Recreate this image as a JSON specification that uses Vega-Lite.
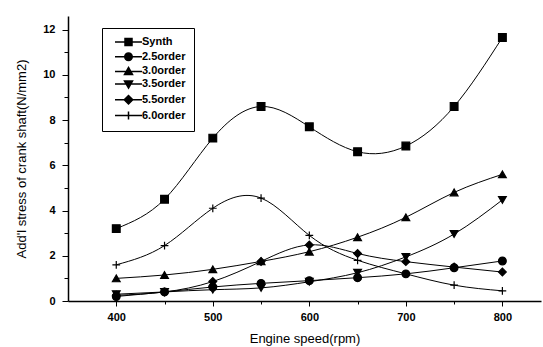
{
  "$schema": "https://vega.github.io/schema/vega-lite/v6.json",
  "width": 473,
  "height": 285,
  "autosize": {"type": "none"},
  "padding": {"left": 68, "top": 16, "right": 2, "bottom": 46},
  "background": "white",
  "config": {
    "view": {"stroke": null},
    "font": "Liberation Sans",
    "axis": {"grid": false, "domainColor": "black", "tickColor": "black", "labelColor": "black", "titleColor": "black", "labelFont": "Liberation Sans", "titleFont": "Liberation Sans", "labelFontWeight": "bold", "titleFontWeight": "normal", "labelFontSize": 11, "titleFontSize": 13, "domainWidth": 1.5}
  },
  "data": {
    "values": [
      {"s": "Synth", "x": 400, "y": 3.2}, {"s": "Synth", "x": 450, "y": 4.5}, {"s": "Synth", "x": 500, "y": 7.2}, {"s": "Synth", "x": 550, "y": 8.6}, {"s": "Synth", "x": 600, "y": 7.7}, {"s": "Synth", "x": 650, "y": 6.6}, {"s": "Synth", "x": 700, "y": 6.85}, {"s": "Synth", "x": 750, "y": 8.6}, {"s": "Synth", "x": 800, "y": 11.65},
      {"s": "2.5order", "x": 400, "y": 0.2}, {"s": "2.5order", "x": 450, "y": 0.4}, {"s": "2.5order", "x": 500, "y": 0.62}, {"s": "2.5order", "x": 550, "y": 0.78}, {"s": "2.5order", "x": 600, "y": 0.9}, {"s": "2.5order", "x": 650, "y": 1.03}, {"s": "2.5order", "x": 700, "y": 1.2}, {"s": "2.5order", "x": 750, "y": 1.47}, {"s": "2.5order", "x": 800, "y": 1.77},
      {"s": "3.0order", "x": 400, "y": 1.0}, {"s": "3.0order", "x": 450, "y": 1.15}, {"s": "3.0order", "x": 500, "y": 1.4}, {"s": "3.0order", "x": 550, "y": 1.75}, {"s": "3.0order", "x": 600, "y": 2.18}, {"s": "3.0order", "x": 650, "y": 2.82}, {"s": "3.0order", "x": 700, "y": 3.7}, {"s": "3.0order", "x": 750, "y": 4.8}, {"s": "3.0order", "x": 800, "y": 5.6},
      {"s": "3.5order", "x": 400, "y": 0.3}, {"s": "3.5order", "x": 450, "y": 0.4}, {"s": "3.5order", "x": 500, "y": 0.5}, {"s": "3.5order", "x": 550, "y": 0.58}, {"s": "3.5order", "x": 600, "y": 0.85}, {"s": "3.5order", "x": 650, "y": 1.25}, {"s": "3.5order", "x": 700, "y": 1.95}, {"s": "3.5order", "x": 750, "y": 2.96}, {"s": "3.5order", "x": 800, "y": 4.47},
      {"s": "5.5order", "x": 400, "y": 0.25}, {"s": "5.5order", "x": 450, "y": 0.4}, {"s": "5.5order", "x": 500, "y": 0.86}, {"s": "5.5order", "x": 550, "y": 1.75}, {"s": "5.5order", "x": 600, "y": 2.48}, {"s": "5.5order", "x": 650, "y": 2.1}, {"s": "5.5order", "x": 700, "y": 1.74}, {"s": "5.5order", "x": 750, "y": 1.5}, {"s": "5.5order", "x": 800, "y": 1.28},
      {"s": "6.0order", "x": 400, "y": 1.6}, {"s": "6.0order", "x": 450, "y": 2.45}, {"s": "6.0order", "x": 500, "y": 4.1}, {"s": "6.0order", "x": 550, "y": 4.55}, {"s": "6.0order", "x": 600, "y": 2.9}, {"s": "6.0order", "x": 650, "y": 1.8}, {"s": "6.0order", "x": 700, "y": 1.2}, {"s": "6.0order", "x": 750, "y": 0.7}, {"s": "6.0order", "x": 800, "y": 0.45}
    ]
  },
  "encoding": {
    "x": {"field": "x", "type": "quantitative", "scale": {"domain": [350, 840], "nice": false, "zero": false},
      "axis": {"title": "Engine speed(rpm)", "values": [400, 450, 500, 550, 600, 650, 700, 750, 800], "labelExpr": "datum.value % 100 ? '' : datum.label", "tickSize": {"condition": {"test": "datum.value % 100", "value": 3}, "value": 5}, "labelPadding": 5, "titlePadding": 10}},
    "y": {"field": "y", "type": "quantitative", "scale": {"domain": [0, 12.6], "nice": false},
      "axis": {"title": "Add'l stress of crank shaft(N/mm2)", "values": [0, 1, 2, 3, 4, 5, 6, 7, 8, 9, 10, 11, 12], "labelExpr": "datum.value % 2 ? '' : datum.label", "tickSize": {"condition": {"test": "datum.value % 2", "value": 4}, "value": 6}, "labelPadding": 7, "titlePadding": 14}}
  },
  "resolve": {"scale": {"shape": "independent"}},
  "layer": [
    {
      "mark": {"type": "line", "interpolate": "natural", "color": "black", "strokeWidth": 1},
      "encoding": {"detail": {"field": "s"}}
    },
    {
      "mark": {"type": "point", "filled": true, "fill": "black", "stroke": "black", "strokeWidth": 1.2, "size": 60, "opacity": 1},
      "encoding": {
        "shape": {"field": "s", "type": "nominal", "legend": null,
          "scale": {"domain": ["Synth", "2.5order", "3.0order", "3.5order", "5.5order", "6.0order"], "range": ["square", "circle", "triangle-up", "triangle-down", "diamond", "M-1,0H1M0,-1V1"]}}
      }
    },
    {
      "mark": {"type": "point", "filled": true, "fill": "black", "stroke": "black", "size": 100, "opacity": 0},
      "encoding": {
        "shape": {"field": "s", "type": "nominal",
          "scale": {"domain": ["Synth", "2.5order", "3.0order", "3.5order", "5.5order", "6.0order"], "range": [
            "M-0.2,0H5.2M1.8,-0.7H3.2V0.7H1.8Z",
            "M-0.2,0H5.2M1.75,0A0.75,0.75,0,1,1,3.25,0A0.75,0.75,0,1,1,1.75,0Z",
            "M-0.2,0H5.2M2.5,-0.8L3.3,0.6H1.7Z",
            "M-0.2,0H5.2M2.5,0.8L3.3,-0.6H1.7Z",
            "M-0.2,0H5.2M2.5,-0.85L3.35,0L2.5,0.85L1.65,0Z",
            "M-0.2,0H5.2M2.5,-0.8V0.8"]},
          "legend": {"title": null, "orient": "none", "legendX": 34, "legendY": 12, "strokeColor": "black", "fillColor": "white", "padding": 8, "symbolSize": 100, "labelOffset": 20, "rowPadding": 0.7, "labelFontSize": 11, "labelFontWeight": "bold", "labelFont": "Liberation Sans", "labelColor": "black", "symbolOpacity": 1,
            "encode": {
              "legend": {"stroke": {"value": "black"}, "strokeWidth": {"value": 1.2}, "fill": {"value": "white"}},
              "symbols": {"stroke": {"value": "black"}, "strokeWidth": {"value": 1}, "fill": {"value": "black"}, "opacity": {"value": 1}}}}
        }
      }
    }
  ]
}
